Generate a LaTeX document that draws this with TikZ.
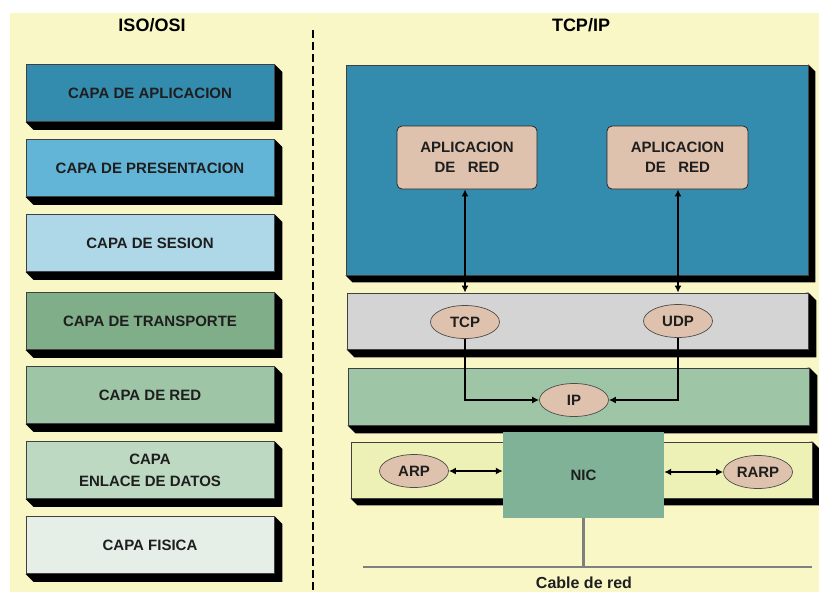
\documentclass[tikz,border=0pt]{standalone}
\usepackage{fontspec}
\setmainfont{Liberation Sans}
\usetikzlibrary{calc,arrows.meta,shapes.geometric}
\pgfdeclarelayer{panel}
\pgfdeclarelayer{shade}
\pgfsetlayers{panel,shade,main}
\definecolor{panelyellow}{HTML}{FAF7C6}
\definecolor{osiA}{HTML}{338BAE}
\definecolor{osiB}{HTML}{62B5D6}
\definecolor{osiC}{HTML}{AED8E7}
\definecolor{osiD}{HTML}{80AE88}
\definecolor{osiE}{HTML}{9EC5A6}
\definecolor{osiF}{HTML}{BDD9C1}
\definecolor{osiG}{HTML}{E6EEE8}
\definecolor{tanfill}{HTML}{DFC2AD}
\definecolor{grayband}{HTML}{D4D4D4}
\definecolor{linkband}{HTML}{EEF1B5}
\definecolor{nicgreen}{HTML}{7FB296}
\definecolor{txt}{HTML}{1E1E1E}
\definecolor{cablegray}{HTML}{808080}
\newcommand\mkshadow[2]{\begin{pgfonlayer}{shade}\fill[black] (#1.north east) -- ++(#2,#2) -- ($(#1.south east)+(#2,#2)$) -- ($(#1.south west)+(#2,#2)$) -- (#1.south west) -- cycle;\end{pgfonlayer}}
\tikzset{
  osibox/.style={draw=black!75, line width=0.8pt, inner sep=0pt, minimum width=248, minimum height=57, text=txt, align=center, font=\fontsize{15}{22}\selectfont\bfseries},
  band/.style={draw=black!75, line width=0.8pt, inner sep=0pt, minimum width=461, minimum height=57},
  appbox/.style={draw=black!85, line width=0.8pt, fill=tanfill, rounded corners=5pt, inner sep=0pt, minimum width=140, minimum height=63, text=txt, align=center, font=\fontsize{15}{20}\selectfont\bfseries},
  proto/.style={ellipse, draw=black!70, line width=0.7pt, fill=tanfill, inner sep=0pt, minimum width=69, minimum height=33, text=txt, font=\fontsize{15}{16}\selectfont\bfseries},
  header/.style={text=black, font=\fontsize{18}{20}\selectfont\bfseries},
  link/.style={line width=2.8pt, black},
  tip/.style={-{Latex[length=7pt,width=7pt]}},
  tips/.style={{Latex[length=7pt,width=7pt]}-{Latex[length=7pt,width=7pt]}},
  cable/.style={line width=2.5pt, cablegray},
}
\begin{document}
\begin{tikzpicture}[x=1pt,y=-1pt]
\useasboundingbox (0,0) rectangle (819,592);
\begin{pgfonlayer}{panel}
\fill[white] (0,0) rectangle (819,592);
\fill[panelyellow] (10,13) rectangle (819,592);
\end{pgfonlayer}

% headers
\node[header] (hosi) at (152,25) {ISO/OSI};
\node[header] (htcp) at (581,25) {TCP/IP};

% divider
\coordinate (dtop) at (313,30);
\coordinate (dbot) at (313,590);
\draw[line width=1.8pt, dash pattern=on 8pt off 4pt] (dtop) -- (dbot);

% OSI layers
\node[osibox, fill=osiA] (l1) at (150,93) {CAPA DE APLICACION};
\node[osibox, fill=osiB] (l2) at (150,168) {CAPA DE PRESENTACION};
\node[osibox, fill=osiC] (l3) at (150,243) {CAPA DE SESION};
\node[osibox, fill=osiD] (l4) at (150,321) {CAPA DE TRANSPORTE};
\node[osibox, fill=osiE] (l5) at (150,395) {CAPA DE RED};
\node[osibox, fill=osiF] (l6) at (150,470) {CAPA\\ENLACE DE DATOS};
\node[osibox, fill=osiG] (l7) at (150,545) {CAPA FISICA};
\foreach \n in {l1,l2,l3,l4,l5,l6,l7}{\mkshadow{\n}{8}}

% TCP/IP side
\node[band, fill=osiA, minimum width=462, minimum height=210] (appl) at (577,170) {};
\mkshadow{appl}{7}
\node[appbox] (app1) at (467,157.5) {APLICACION\\DE\ \ \ RED};
\node[appbox, minimum width=141] (app2) at (677.5,157.5) {APLICACION\\DE\ \ \ RED};

\node[band, fill=grayband, minimum height=56] (trans) at (577.5,321) {};
\mkshadow{trans}{8}
\node[band, fill=osiE] (net) at (578.5,396.5) {};
\mkshadow{net}{8}
\node[band, fill=linkband, minimum height=56] (lnk) at (581.5,470) {};
\mkshadow{lnk}{7}

\node[proto] (tcp) at (465,322) {TCP};
\node[proto] (udp) at (678,321) {UDP};
\node[proto] (ip) at (574,400) {IP};

\node[fill=nicgreen, inner sep=0pt, minimum width=161, minimum height=86, text=txt, font=\fontsize{15}{16}\selectfont\bfseries] (nic) at (583.5,475) {\raisebox{-4pt}{NIC}};
\node[proto] (arp) at (414,471) {ARP};
\node[proto] (rarp) at (758,472) {RARP};

% connectors
\draw[link, tips] (tcp.north |- app1.south) -- (tcp.north |- trans.north);
\draw[link, tips] (udp.north |- app2.south) -- (udp.north |- trans.north);
\draw[link, tip] (tcp.south) |- (ip.west);
\draw[link, tip] (udp.south) |- (ip.east);
\draw[link, tips] (arp.east) -- (arp.east -| nic.west);
\draw[link, tips] (nic.east |- rarp.west) -- (rarp.west);

% cable
\coordinate (cabL) at (363,567);
\coordinate (cabR) at (812,567);
\draw[cable] (cabL) -- (cabR);
\draw[cable] (nic.south) -- (nic.south |- cabL);
\node[text=txt, font=\fontsize{16}{18}\selectfont\bfseries] (cabtxt) at (584,583) {Cable de red};
\end{tikzpicture}
\end{document}
